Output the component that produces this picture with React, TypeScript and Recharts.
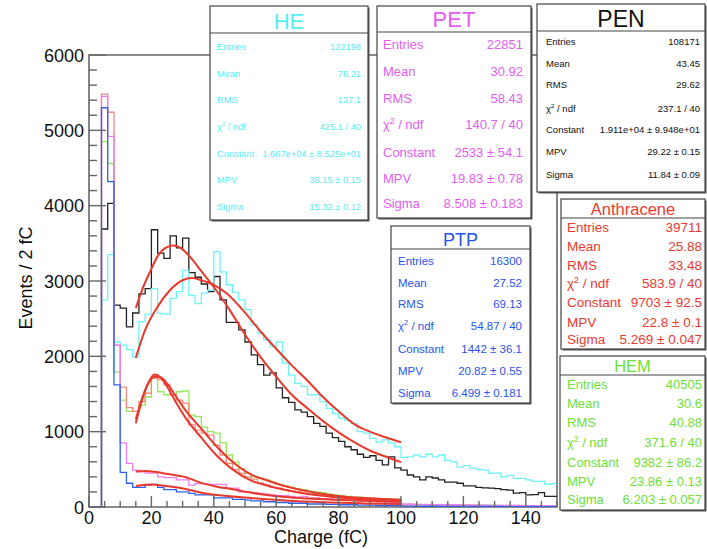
import React from "react";
import { ComposedChart, Line, XAxis, YAxis, ReferenceArea } from "recharts";

// histogram bins: 2 fC wide, 0..150 fC
const binStarts = Array.from({ length: 75 }, (_, i) => i * 2);

const penCounts = [
  0, 0, 3690, 4030, 2680, 2640, 2390, 2575, 2830, 2900,
  3680, 3370, 3300, 3600, 3440, 3570, 3110, 3050, 2960, 2860,
  3060, 2750, 2450, 2450, 2350, 2190, 2020, 1890, 1750, 1780,
  1580, 1450, 1390, 1290, 1260, 1200, 1110, 1070, 980, 920,
  870, 800, 760, 700, 660, 680, 620, 560, 665, 520,
  490, 425, 400, 360, 400, 385, 360, 330, 330, 315,
  280, 280, 260, 255, 250, 245, 230, 225, 185, 190,
  160, 165, 190, 140, 140,
];
const heCounts = [
  0, 0, 2750, 3350, 2190, 2150, 2090, 1990, 2460, 2560,
  2900, 2570, 2560, 2770, 2860, 3140, 2810, 2700, 2840, 2880,
  3390, 3120, 2950, 2850, 2750, 2620, 2420, 2310, 2220, 2130,
  2190, 1910, 1750, 1640, 1600, 1490, 1490, 1400, 1310, 1240,
  1180, 1150, 1110, 1000, 980, 910, 860, 890, 850, 800,
  660, 665, 690, 665, 700, 665, 690, 620, 600, 530,
  550, 520, 500, 490, 450, 450, 400, 420, 380, 380,
  360, 340, 340, 300, 310,
];
const petCounts = [
  0, 0, 5450, 4920, 2150, 850, 580, 490, 470, 450,
  450, 400, 390, 390, 360, 360, 290, 310, 310, 300,
  300, 300, 250, 250, 200, 200, 190, 180, 170, 160,
  150, 150, 140, 130, 140, 120, 120, 110, 110, 100,
  100, 90, 90, 80, 80, 80, 70, 70, 60, 60,
  40, 40, 35, 35, 35, 30, 30, 30, 30, 28,
  28, 25, 25, 25, 22, 22, 20, 20, 20, 18,
  18, 18, 15, 15, 15,
];
const ptpCounts = [
  0, 0, 5300, 4320, 1620, 460, 315, 260, 260, 290,
  300, 260, 230, 230, 200, 200, 180, 160, 160, 160,
  120, 120, 120, 100, 100, 90, 80, 80, 70, 70,
  60, 60, 50, 50, 50, 40, 40, 40, 35, 35,
  30, 30, 30, 25, 25, 25, 20, 20, 20, 20,
  12, 12, 10, 10, 10, 10, 9, 9, 9, 8,
  8, 8, 8, 7, 7, 7, 6, 6, 6, 6,
  5, 5, 5, 5, 5,
];
const anthCounts = [
  0, 0, 5480, 5240, 2150, 1590, 1320, 1270, 1400, 1510,
  1710, 1690, 1620, 1490, 1420, 1380, 1090, 1020, 980, 955,
  820, 690, 580, 500, 450, 400, 370, 320, 290, 260,
  250, 230, 210, 200, 185, 170, 160, 150, 140, 130,
  125, 120, 115, 110, 110, 100, 95, 90, 85, 80,
  30, 30, 28, 28, 26, 25, 25, 24, 22, 22,
  20, 20, 20, 18, 18, 18, 16, 16, 15, 15,
  15, 14, 14, 13, 13,
];
const hemCounts = [
  0, 0, 4850, 4560, 1790, 1420, 1270, 1270, 1350, 1460,
  1710, 1530, 1490, 1490, 1530, 1540, 1220, 1200, 1060, 1000,
  980, 850, 690, 600, 510, 450, 400, 380, 360, 330,
  300, 280, 260, 240, 230, 210, 200, 190, 170, 160,
  150, 140, 130, 130, 120, 115, 110, 105, 100, 100,
  35, 35, 33, 32, 32, 30, 30, 28, 28, 27,
  26, 25, 25, 24, 23, 22, 22, 21, 20, 20,
  19, 18, 18, 17, 17,
];

// Landau fit curves: [charge, events]
const penFit = [[15, 2640], [17, 2880], [20, 3160], [22, 3330], [25, 3450], [27, 3470], [30, 3420], [33, 3290], [36, 3130], [40, 2920], [45, 2620], [50, 2290], [55, 1990], [60, 1730], [65, 1490], [70, 1310], [75, 1140], [80, 990], [85, 860], [90, 750], [95, 670], [100, 595]];
const heFit = [[15, 1980], [18, 2350], [22, 2660], [26, 2880], [30, 3010], [33, 3040], [36, 3010], [40, 2950], [44, 2840], [50, 2580], [55, 2330], [60, 2100], [65, 1880], [70, 1680], [75, 1460], [80, 1270], [85, 1100], [90, 1000], [95, 925], [100, 860]];
const anthFit = [[15, 1110], [17, 1420], [19, 1650], [21, 1760], [23, 1720], [25, 1600], [28, 1380], [31, 1180], [36, 920], [41, 680], [46, 500], [52, 350], [57, 285], [63, 225], [68, 185], [79, 130], [90, 100], [100, 85]];
const hemFit = [[15, 1160], [17, 1440], [19, 1640], [21, 1730], [23, 1720], [25, 1640], [28, 1460], [31, 1280], [36, 1040], [41, 800], [46, 600], [52, 430], [57, 355], [63, 275], [68, 225], [79, 150], [90, 115], [100, 95]];
const petFit = [[15, 470], [18, 478], [21, 468], [25, 440], [31, 395], [36, 320], [41, 270], [46, 235], [52, 190], [57, 160], [63, 132], [70, 112], [79, 95], [90, 80], [100, 70]];
const ptpFit = [[15, 280], [18, 295], [20, 300], [24, 282], [31, 240], [36, 190], [42, 155], [52, 118], [63, 85], [75, 62], [88, 48], [100, 40]];

const xTicks = Array.from({ length: 31 }, (_, i) => i * 5);
const yTicks = Array.from({ length: 31 }, (_, i) => i * 200);

// stat box contents
const heStats = [["Entries", "122198"], ["Mean", "76.21"], ["RMS", "137.1"], ["chi", "425.1 / 40"], ["Constant", "1.667e+04 \u00b1 8.525e+01"], ["MPV", "36.15 \u00b1 0.15"], ["Sigma", "15.32 \u00b1 0.12"]];
const petStats = [["Entries", "22851"], ["Mean", "30.92"], ["RMS", "58.43"], ["chi", "140.7 / 40"], ["Constant", "2533 \u00b1 54.1"], ["MPV", "19.83 \u00b1 0.78"], ["Sigma", "8.508 \u00b1 0.183"]];
const penStats = [["Entries", "108171"], ["Mean", "43.45"], ["RMS", "29.62"], ["chi", "237.1 / 40"], ["Constant", "1.911e+04 \u00b1 9.948e+01"], ["MPV", "29.22 \u00b1 0.15"], ["Sigma", "11.84 \u00b1 0.09"]];
const ptpStats = [["Entries", "16300"], ["Mean", "27.52"], ["RMS", "69.13"], ["chi", "54.87 / 40"], ["Constant", "1442 \u00b1 36.1"], ["MPV", "20.82 \u00b1 0.55"], ["Sigma", "6.499 \u00b1 0.181"]];
const anthStats = [["Entries", "39711"], ["Mean", "25.88"], ["RMS", "33.48"], ["chi", "583.9 / 40"], ["Constant", "9703 \u00b1 92.5"], ["MPV", "22.8 \u00b1 0.1"], ["Sigma", "5.269 \u00b1 0.047"]];
const hemStats = [["Entries", "40505"], ["Mean", "30.6"], ["RMS", "40.88"], ["chi", "371.6 / 40"], ["Constant", "9382 \u00b1 86.2"], ["MPV", "23.86 \u00b1 0.13"], ["Sigma", "6.203 \u00b1 0.057"]];

const FONT = "'Liberation Sans', Arial, Helvetica, sans-serif";
const FIT_RED = "#e8392c";

const toHist = (counts: number[]) => [
  ...binStarts.map((x, i) => ({ x, y: counts[i] })),
  { x: 150, y: counts[counts.length - 1] },
];
const toFit = (pts: number[][]) => pts.map(([x, y]) => ({ x, y }));

const histograms = [
  { name: "PEN", data: toHist(penCounts), color: "#222222" },
  { name: "HE", data: toHist(heCounts), color: "#6ef3f7" },
  { name: "HEM", data: toHist(hemCounts), color: "#96e85c" },
  { name: "Anthracene", data: toHist(anthCounts), color: "#f28a7e" },
  { name: "PET", data: toHist(petCounts), color: "#ea7ef4" },
  { name: "PTP", data: toHist(ptpCounts), color: "#2c62ee" },
];
const fits = [penFit, heFit, anthFit, hemFit, petFit, ptpFit].map(toFit);

function XTick({ x, y, payload }: any) {
  const v = payload.value;
  const major = v % 20 === 0;
  return (
    <g>
      <line x1={x} y1={y} x2={x} y2={y - (major ? 11 : 6)} stroke="#666" strokeWidth={1.4} />
      {major && v <= 140 && (
        <text x={x} y={y + 17} textAnchor="middle" fontSize={18} fill="#111" fontFamily={FONT}>
          {v}
        </text>
      )}
    </g>
  );
}

function YTick({ x, y, payload }: any) {
  const v = payload.value;
  const major = v % 1000 === 0;
  return (
    <g>
      <line x1={x} y1={y} x2={x + (major ? 17 : 8)} y2={y} stroke="#666" strokeWidth={1.4} />
      {major && (
        <text x={x - 5} y={y + 6.5} textAnchor="end" fontSize={18} fill="#111" fontFamily={FONT}>
          {v}
        </text>
      )}
    </g>
  );
}

type Box = {
  left: number; top: number; width: number; height: number; divider: number;
  title: string; titleSize: number; titleBase: number; color: string;
  rows: string[][]; rowSize: number; rowBases: number[]; padL: number; padR: number;
};

const boxes: Box[] = [
  { left: 210, top: 6, width: 158, height: 214, divider: 33, title: "HE", titleSize: 22, titleBase: 29, color: "#55eef5", rows: heStats, rowSize: 9.3, rowBases: [50, 77, 103, 130, 157, 183, 210], padL: 7, padR: 7 },
  { left: 377, top: 6, width: 154, height: 212, divider: 32, title: "PET", titleSize: 22, titleBase: 27, color: "#e35ef0", rows: petStats, rowSize: 13, rowBases: [49, 76, 103, 129, 157, 183, 208], padL: 6, padR: 8 },
  { left: 537, top: 4, width: 168, height: 188, divider: 31, title: "PEN", titleSize: 23, titleBase: 27, color: "#111111", rows: penStats, rowSize: 9.5, rowBases: [45, 67, 88, 112, 133, 155, 178], padL: 9, padR: 5 },
  { left: 391, top: 226, width: 139, height: 177, divider: 249, title: "PTP", titleSize: 18, titleBase: 246, color: "#1f55f0", rows: ptpStats, rowSize: 11.5, rowBases: [265, 287, 308, 330, 353, 375, 397], padL: 7, padR: 8 },
  { left: 561, top: 199, width: 144, height: 150, divider: 218, title: "Anthracene", titleSize: 16.5, titleBase: 215, color: "#ea3a2e", rows: anthStats, rowSize: 13.5, rowBases: [232, 251, 270, 288, 307, 327, 344], padL: 6, padR: 3 },
  { left: 560, top: 356, width: 145, height: 154, divider: 375, title: "HEM", titleSize: 16.5, titleBase: 372, color: "#6edf36", rows: hemStats, rowSize: 13, rowBases: [389, 408, 427, 447, 467, 486, 504], padL: 7, padR: 3 },
];

function StatBox({ b }: { b: Box }) {
  return (
    <g fontFamily={FONT}>
      <rect x={b.left + 1.5} y={b.top + 1.5} width={b.width} height={b.height} fill="#555" />
      <rect x={b.left} y={b.top} width={b.width} height={b.height} fill="#fff" stroke="#444" strokeWidth={1.2} />
      <line x1={b.left} x2={b.left + b.width} y1={b.divider} y2={b.divider} stroke="#444" strokeWidth={1.2} />
      <text x={b.left + b.width / 2} y={b.titleBase} textAnchor="middle" fontSize={b.titleSize} fill={b.color}>
        {b.title}
      </text>
      {b.rows.map(([label, value], i) => (
        <g key={i} fill={b.color} fontSize={b.rowSize}>
          {label === "chi" ? (
            <text x={b.left + b.padL} y={b.rowBases[i]}>
              <tspan>{"\u03c7"}</tspan>
              <tspan dy={-b.rowSize * 0.4} fontSize={b.rowSize * 0.65}>2</tspan>
              <tspan dy={b.rowSize * 0.4}>{" / ndf"}</tspan>
            </text>
          ) : (
            <text x={b.left + b.padL} y={b.rowBases[i]}>{label}</text>
          )}
          <text x={b.left + b.width - b.padR} y={b.rowBases[i]} textAnchor="end">{value}</text>
        </g>
      ))}
    </g>
  );
}

export default function App() {
  return (
    <div style={{ position: "absolute", left: 0, top: 0, width: 707, height: 549, background: "#fff" }}>
      <ComposedChart width={707} height={549} margin={{ top: 55, right: 150, bottom: 0, left: 29 }}>
        <XAxis
          type="number"
          dataKey="x"
          domain={[0, 150]}
          ticks={xTicks}
          interval={0}
          tick={<XTick />}
          tickLine={false}
          axisLine={false}
          tickSize={0}
          tickMargin={0}
          height={42}
          allowDataOverflow
        />
        <YAxis
          type="number"
          domain={[0, 6000]}
          ticks={yTicks}
          interval={0}
          tick={<YTick />}
          tickLine={false}
          axisLine={false}
          tickSize={0}
          tickMargin={0}
          width={60}
          allowDataOverflow
        />
        <ReferenceArea x1={0} x2={150} y1={0} y2={6000} fill="none" fillOpacity={0} stroke="#666" strokeWidth={1.6} />
        {histograms.map((h) => (
          <Line
            key={h.name}
            data={h.data}
            dataKey="y"
            type="stepAfter"
            stroke={h.color}
            strokeWidth={1.3}
            dot={false}
            isAnimationActive={false}
          />
        ))}
        {fits.map((f, i) => (
          <Line
            key={"fit" + i}
            data={f}
            dataKey="y"
            type="monotone"
            stroke={FIT_RED}
            strokeWidth={2}
            dot={false}
            isAnimationActive={false}
          />
        ))}
      </ComposedChart>
      <svg width={707} height={549} style={{ position: "absolute", left: 0, top: 0, pointerEvents: "none" }}>
        <text x={321} y={543} textAnchor="middle" fontSize={18} fill="#111" fontFamily={FONT}>
          Charge (fC)
        </text>
        <text x={32} y={278} textAnchor="middle" fontSize={18} fill="#111" fontFamily={FONT} transform="rotate(-90, 32, 278)">
          Events / 2 fC
        </text>
        {boxes.map((b) => (
          <StatBox key={b.title} b={b} />
        ))}
      </svg>
    </div>
  );
}
